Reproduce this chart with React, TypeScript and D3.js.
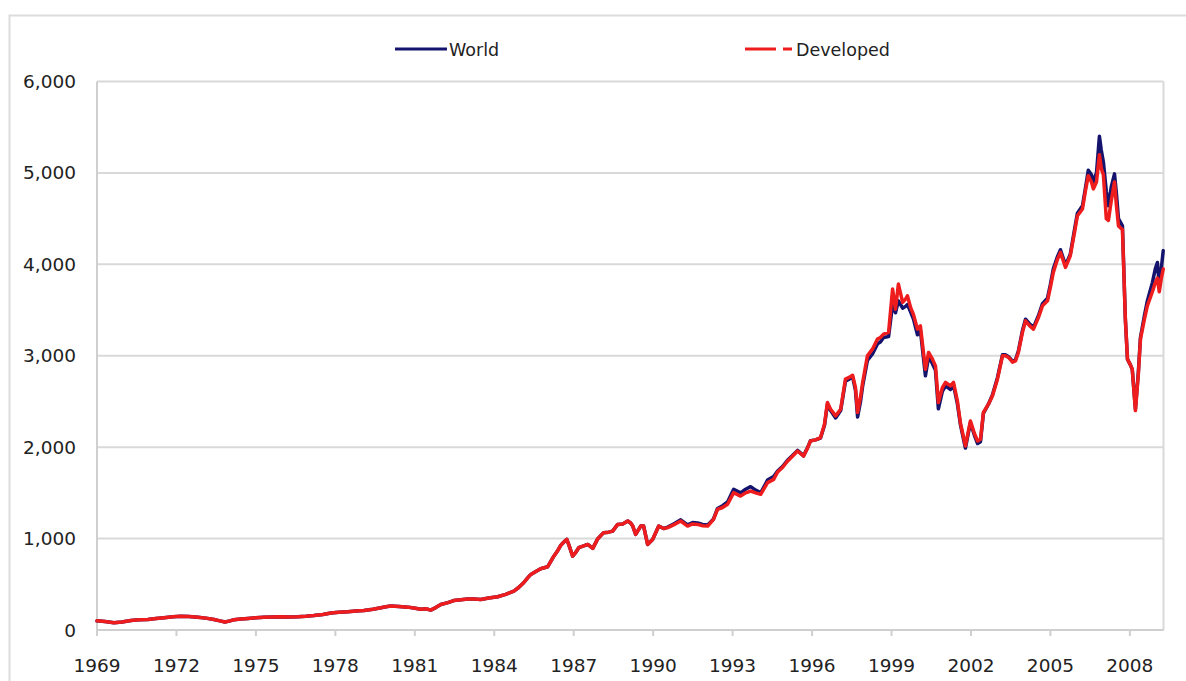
import React from "react";
import * as d3 from "d3";

// Decimal year positions of the sampled points
const dates: number[] = [
  1969.00, 1969.30, 1969.64, 1969.94, 1970.28, 1970.58, 1970.92, 1971.23, 1971.53, 1971.87,
  1972.17, 1972.47, 1972.81, 1973.11, 1973.42, 1973.64, 1973.83, 1974.02, 1974.17, 1974.43,
  1974.70, 1975.00, 1975.30, 1975.64, 1975.94, 1976.25, 1976.58, 1976.89, 1977.19, 1977.53,
  1977.83, 1978.13, 1978.47, 1978.77, 1979.08, 1979.42, 1979.72, 1979.91, 1980.09, 1980.40,
  1980.74, 1980.96, 1981.23, 1981.42, 1981.60, 1981.79, 1981.98, 1982.25, 1982.47, 1982.74,
  1983.00, 1983.23, 1983.49, 1983.79, 1984.13, 1984.43, 1984.74, 1984.92, 1985.11, 1985.26,
  1985.38, 1985.57, 1985.75, 1986.02, 1986.25, 1986.40, 1986.51, 1986.62, 1986.74, 1986.81,
  1986.96, 1987.08, 1987.19, 1987.38, 1987.53, 1987.72, 1987.91, 1988.13, 1988.32, 1988.47,
  1988.66, 1988.85, 1989.04, 1989.15, 1989.23, 1989.34, 1989.53, 1989.64, 1989.79, 1989.98,
  1990.21, 1990.40, 1990.55, 1990.77, 1991.04, 1991.30, 1991.49, 1991.68, 1991.87, 1992.06,
  1992.28, 1992.43, 1992.62, 1992.81, 1993.04, 1993.30, 1993.49, 1993.68, 1993.87, 1994.06,
  1994.32, 1994.55, 1994.70, 1994.89, 1995.08, 1995.26, 1995.45, 1995.57, 1995.68, 1995.83,
  1995.94, 1996.13, 1996.32, 1996.47, 1996.58, 1996.70, 1996.89, 1997.08, 1997.26, 1997.38,
  1997.53, 1997.64, 1997.72, 1997.83, 1997.91, 1998.09, 1998.28, 1998.47, 1998.58, 1998.70,
  1998.89, 1999.04, 1999.15, 1999.26, 1999.42, 1999.53, 1999.60, 1999.72, 1999.83, 1999.98,
  2000.09, 2000.28, 2000.40, 2000.55, 2000.66, 2000.77, 2000.92, 2001.04, 2001.23, 2001.34,
  2001.49, 2001.60, 2001.79, 2001.98, 2002.13, 2002.25, 2002.36, 2002.47, 2002.66, 2002.81,
  2003.00, 2003.19, 2003.30, 2003.42, 2003.57, 2003.68, 2003.79, 2003.94, 2004.06, 2004.21,
  2004.36, 2004.55, 2004.70, 2004.89, 2005.00, 2005.11, 2005.26, 2005.38, 2005.57, 2005.75,
  2005.91, 2006.02, 2006.21, 2006.32, 2006.43, 2006.55, 2006.62, 2006.74, 2006.85, 2006.92,
  2007.00, 2007.11, 2007.19, 2007.30, 2007.42, 2007.49, 2007.57, 2007.72, 2007.83, 2007.91,
  2008.02, 2008.09, 2008.21, 2008.32, 2008.40, 2008.55, 2008.66, 2008.85, 2008.96, 2009.04,
  2009.11, 2009.19, 2009.26,
];

const developed: number[] = [
  100, 92, 80, 88, 105, 112, 115, 125, 134, 145,
  150, 147, 140, 130, 115, 100, 88, 100, 112, 120,
  126, 133, 140, 143, 145, 143, 145, 150, 158, 170,
  185, 195, 200, 208, 214, 228, 243, 255, 262, 258,
  250, 240, 227, 232, 218, 245, 279, 300, 322, 330,
  338, 340, 334, 350, 364, 390, 425, 465, 517, 570,
  608, 640, 670, 692, 808, 870, 925, 960, 991, 936,
  808, 850, 900, 920, 936, 893, 999, 1065, 1070, 1082,
  1155, 1160, 1192, 1170, 1137, 1046, 1137, 1137, 936, 991,
  1137, 1110, 1120, 1150, 1192, 1137, 1160, 1155, 1140, 1137,
  1210, 1320, 1340, 1375, 1503, 1465, 1500, 1520, 1500, 1484,
  1612, 1648, 1728, 1780, 1849, 1900, 1958, 1930, 1903, 1990,
  2068, 2080, 2105, 2250, 2488, 2415, 2342, 2415, 2744, 2760,
  2787, 2650, 2379, 2550, 2708, 2999, 3072, 3182, 3200, 3237,
  3255, 3729, 3510, 3784, 3584, 3620, 3656, 3529, 3450, 3291,
  3327, 2853, 3036, 2960, 2889, 2488, 2650, 2708, 2670, 2708,
  2500, 2269, 2013, 2287, 2150, 2068, 2087, 2379, 2470, 2561,
  2744, 2999, 3000, 2981, 2930, 2944, 3036, 3250, 3382, 3330,
  3291, 3420, 3546, 3601, 3750, 3912, 4050, 4131, 3967, 4094,
  4350, 4532, 4606, 4800, 4970, 4900, 4825, 4900, 5200, 5050,
  4980, 4500, 4480, 4700, 4900, 4650, 4420, 4380, 3401, 2963,
  2900, 2853, 2400, 2800, 3182, 3400, 3546, 3700, 3800, 3850,
  3700, 3850, 3948,
];

const world: number[] = [
  100, 92, 80, 88, 105, 112, 115, 125, 134, 145,
  150, 147, 140, 130, 115, 100, 88, 100, 112, 120,
  126, 133, 140, 143, 145, 143, 145, 150, 158, 170,
  185, 195, 200, 208, 214, 228, 243, 255, 262, 258,
  250, 240, 227, 232, 218, 245, 279, 300, 322, 330,
  338, 340, 334, 350, 364, 390, 425, 465, 517, 570,
  608, 640, 670, 692, 808, 870, 925, 960, 991, 936,
  808, 850, 900, 920, 936, 893, 999, 1065, 1070, 1082,
  1155, 1160, 1192, 1170, 1137, 1046, 1137, 1137, 936, 991,
  1137, 1110, 1125, 1160, 1205, 1150, 1175, 1170, 1155, 1150,
  1215, 1330, 1360, 1400, 1540, 1500, 1540, 1568, 1530, 1500,
  1640, 1680, 1740, 1790, 1860, 1910, 1965, 1935, 1905, 1995,
  2070, 2080, 2100, 2240, 2470, 2400, 2320, 2400, 2720, 2740,
  2770, 2620, 2330, 2500, 2670, 2950, 3020, 3130, 3150, 3200,
  3210, 3560, 3470, 3600, 3520, 3540, 3560, 3480, 3400, 3230,
  3280, 2780, 2990, 2910, 2840, 2420, 2610, 2670, 2630, 2680,
  2470, 2250, 1990, 2270, 2130, 2040, 2060, 2370, 2470, 2570,
  2760, 3010, 3010, 2990, 2940, 2955, 3050, 3270, 3400, 3350,
  3310, 3440, 3570, 3630, 3780, 3950, 4080, 4160, 3990, 4110,
  4380, 4560, 4640, 4830, 5030, 4980, 4900, 5000, 5400, 5250,
  5120, 4800, 4640, 4850, 4990, 4780, 4500, 4420, 3400, 2960,
  2900, 2850, 2420, 2820, 3200, 3440, 3600, 3800, 3950, 4020,
  3770, 3960, 4150,
];

const xTickYears: number[] = [1969, 1972, 1975, 1978, 1981, 1984, 1987, 1990, 1993, 1996, 1999, 2002, 2005, 2008];
const yTicks: number[] = [0, 1000, 2000, 3000, 4000, 5000, 6000];
const seriesNames: string[] = ["World", "Developed"];
const seriesColors: string[] = ["#14146e", "#ee1c1c"];

const W = 1186;
const H = 681;
const left = 97;
const right = 1163.5;
const top = 81.5;
const bottom = 630;
const font = "'DejaVu Sans', Verdana, sans-serif";

export default function App() {
  const x = d3.scaleLinear().domain([1969, 2009.27]).range([left, right]);
  const y = d3.scaleLinear().domain([0, 6000]).range([bottom, top]);
  const fmt = d3.format(",");

  const mk = (vals: number[]) =>
    d3
      .line<number>()
      .x((_, i) => x(dates[i]))
      .y((v) => y(v))(vals) || "";

  const series = [world, developed];

  return (
    <svg
      width={W}
      height={H}
      style={{ position: "absolute", left: 0, top: 0, background: "#fff" }}
      fontFamily={font}
    >
      {/* outer chart frame */}
      <rect x={9.5} y={15.5} width={1300} height={800} fill="#fff" stroke="#dcdcdc" strokeWidth={2} />

      {/* gridlines */}
      {yTicks.map((t) => (
        <line key={t} x1={left} x2={right} y1={y(t)} y2={y(t)} stroke="#d9d9d9" strokeWidth={2} />
      ))}
      {/* plot frame */}
      <line x1={left} x2={left} y1={top} y2={bottom} stroke="#cfcfcf" strokeWidth={2} />
      <line x1={right} x2={right} y1={top} y2={bottom} stroke="#d9d9d9" strokeWidth={2} />
      <line x1={left} x2={right} y1={bottom} y2={bottom} stroke="#cfcfcf" strokeWidth={2} />

      {/* x ticks */}
      {xTickYears.map((yr) => (
        <g key={yr}>
          <line x1={x(yr)} x2={x(yr)} y1={bottom} y2={bottom + 6} stroke="#cfcfcf" strokeWidth={2} />
          <text x={x(yr)} y={672} textAnchor="middle" fontSize={18.5} fill="#222">
            {yr}
          </text>
        </g>
      ))}

      {/* y labels */}
      {yTicks.map((t) => (
        <text key={t} x={76} y={y(t) + 6.5} textAnchor="end" fontSize={18.5} fill="#222">
          {fmt(t)}
        </text>
      ))}

      {/* lines */}
      {series.map((s, i) => (
        <path
          key={seriesNames[i]}
          d={mk(s)}
          fill="none"
          stroke={seriesColors[i]}
          strokeWidth={3.5}
          strokeLinejoin="round"
          strokeLinecap="round"
        />
      ))}

      {/* legend */}
      <line x1={395} x2={447} y1={49} y2={49} stroke={seriesColors[0]} strokeWidth={3} />
      <text x={449} y={55.5} fontSize={17.5} fill="#222">
        {seriesNames[0]}
      </text>
      <line x1={745} x2={776} y1={49} y2={49} stroke={seriesColors[1]} strokeWidth={3} />
      <line x1={783} x2={792} y1={49} y2={49} stroke={seriesColors[1]} strokeWidth={3} />
      <text x={796} y={55.5} fontSize={17.5} fill="#222">
        {seriesNames[1]}
      </text>
    </svg>
  );
}
